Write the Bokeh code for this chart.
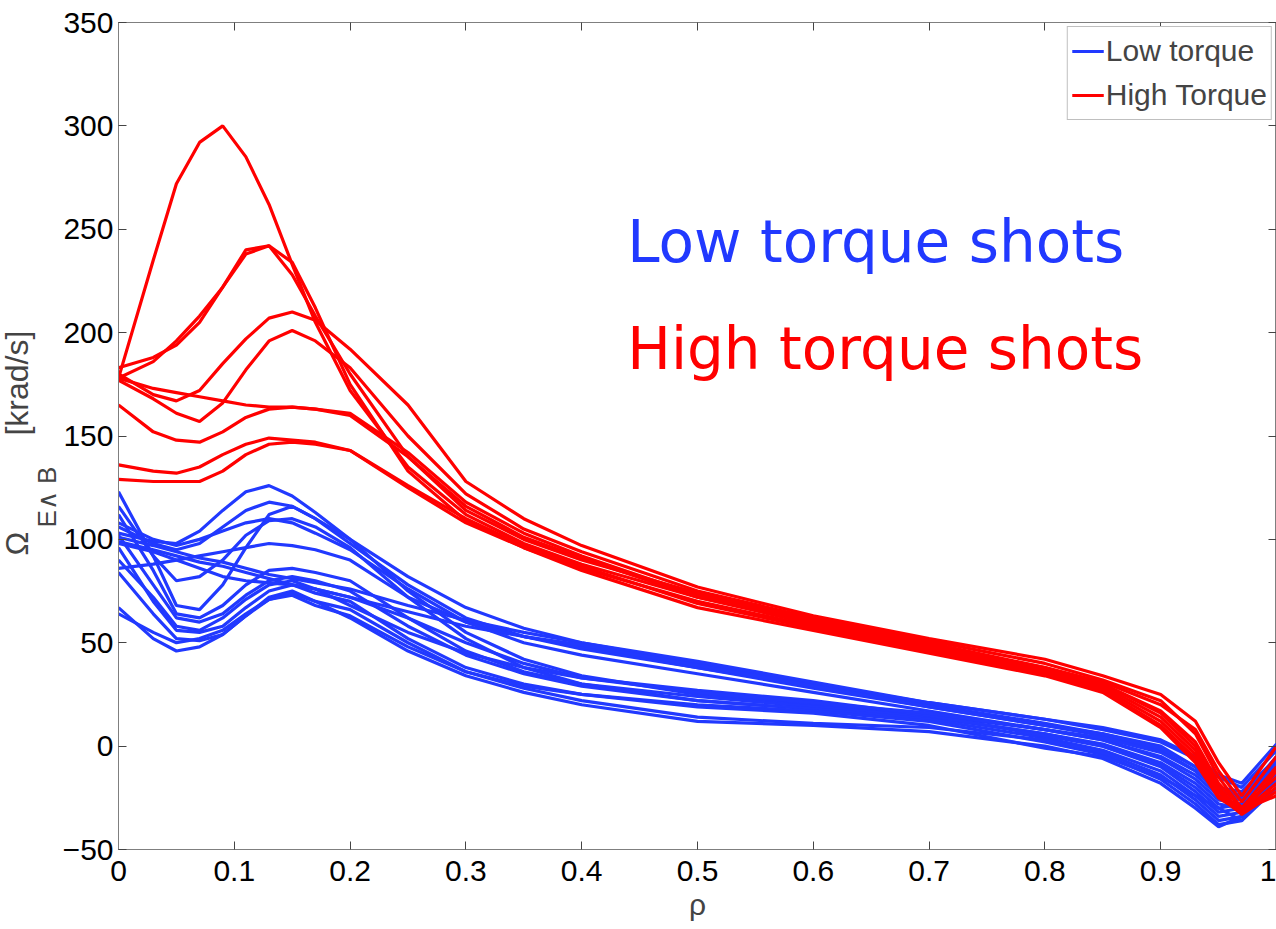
from bokeh.plotting import figure
from bokeh.models import LinearAxis, FixedTicker, Range1d, Label, Legend, LegendItem, Title
from bokeh.embed import file_html
from bokeh.resources import INLINE

# ---------------- data ----------------
rho = [0, 0.03, 0.05, 0.07, 0.09, 0.11, 0.13, 0.15, 0.17, 0.2,
       0.25, 0.3, 0.35, 0.4, 0.5, 0.6, 0.7, 0.8, 0.85, 0.9, 0.93, 0.95, 0.97, 1.0]

blue_1 = [103, 99, 98, 104, 114, 123, 126, 121, 113, 100, 82, 67, 57, 50, 40, 30, 21, 13, 8, 2, -6, -15, -20, -2]
blue_2 = [106, 98, 95, 98, 106, 114, 118, 116, 110, 98, 78, 62, 53, 47, 38, 29, 20, 11, 6, 0, -10, -20, -24, -8]
blue_3 = [123, 92, 68, 66, 78, 96, 112, 116, 110, 100, 75, 55, 42, 34, 25, 20, 15, 8, 3, -6, -16, -26, -28, -12]
blue_4 = [116, 92, 80, 82, 90, 102, 109, 110, 106, 96, 72, 52, 38, 30, 22, 18, 14, 6, 0, -10, -22, -32, -30, -15]
blue_5 = [86, 88, 90, 92, 94, 96, 98, 97, 95, 90, 72, 60, 53, 48, 38, 28, 19, 10, 5, -2, -12, -22, -25, -5]
blue_6 = [101, 97, 94, 91, 89, 86, 83, 81, 79, 76, 68, 61, 55, 50, 41, 31, 21, 13, 9, 3, -5, -14, -18, 1]
blue_7 = [99, 95, 92, 89, 87, 84, 81, 78, 76, 72, 65, 58, 53, 49, 39, 29, 19, 10, 6, -1, -10, -20, -22, -6]
blue_8 = [112, 85, 64, 62, 68, 78, 85, 86, 84, 80, 62, 46, 36, 30, 24, 19, 14, 6, 1, -8, -18, -28, -30, -18]
blue_9 = [102, 78, 62, 60, 64, 73, 80, 82, 80, 75, 58, 44, 35, 29, 22, 18, 13, 4, -2, -12, -24, -34, -32, -14]
blue_10 = [96, 70, 56, 55, 58, 67, 75, 78, 74, 70, 52, 38, 30, 25, 20, 17, 12, 2, -4, -16, -28, -38, -36, -20]
blue_11 = [84, 64, 52, 51, 54, 63, 72, 75, 70, 66, 50, 36, 28, 22, 14, 11, 9, 3, -3, -14, -26, -36, -34, -10]
blue_12 = [67, 52, 46, 48, 54, 63, 71, 74, 70, 62, 46, 34, 26, 20, 12, 10, 7, 0, -6, -18, -30, -39, -34, -16]
blue_13 = [64, 55, 50, 52, 56, 64, 71, 73, 68, 63, 48, 36, 29, 25, 19, 16, 10, -1, -5, -15, -24, -30, -36, -12]
blue_14 = [90, 72, 58, 56, 62, 71, 78, 80, 76, 68, 55, 45, 38, 33, 27, 22, 15, 5, 0, -9, -20, -30, -28, -8]
blue_15 = [108, 100, 97, 100, 104, 108, 110, 108, 103, 95, 76, 60, 50, 44, 35, 26, 17, 8, 3, -5, -14, -24, -26, -9]
blue_16 = [98, 94, 90, 86, 82, 80, 79, 78, 76, 72, 62, 50, 40, 33, 26, 21, 16, 8, 4, -3, -12, -22, -24, -6]

red_1 = [178, 235, 272, 292, 300, 285, 262, 233, 205, 172, 135, 112, 98, 88, 72, 60, 49, 37, 30, 17, 2, -18, -30, -15]
red_2 = [183, 188, 194, 205, 222, 240, 242, 228, 208, 180, 140, 114, 100, 90, 74, 61, 50, 38, 31, 20, 8, -12, -27, -5]
red_3 = [178, 186, 196, 208, 222, 238, 242, 234, 212, 175, 133, 109, 96, 86, 70, 58, 47, 36, 28, 12, -4, -22, -33, -22]
red_4 = [180, 170, 167, 172, 185, 197, 207, 210, 206, 192, 165, 128, 110, 97, 77, 63, 52, 42, 34, 25, 12, -8, -24, 0]
red_5 = [177, 168, 161, 157, 166, 182, 196, 201, 196, 183, 150, 122, 105, 94, 75, 62, 51, 40, 32, 22, 6, -15, -30, -10]
red_6 = [178, 173, 171, 169, 167, 165, 164, 164, 163, 161, 142, 118, 103, 92, 73, 60, 49, 38, 30, 16, 0, -20, -32, -18]
red_7 = [165, 152, 148, 147, 152, 159, 163, 164, 163, 160, 140, 116, 101, 91, 72, 59, 48, 37, 29, 14, -2, -22, -31, -24]
red_8 = [136, 133, 132, 135, 141, 146, 149, 148, 147, 143, 126, 110, 97, 87, 69, 57, 46, 35, 27, 10, -6, -24, -33, -12]
red_9 = [129, 128, 128, 128, 133, 141, 146, 147, 146, 143, 125, 108, 96, 85, 67, 56, 45, 34, 26, 9, -8, -25, -32, -20]

x_ticks = [0, 0.1, 0.2, 0.3, 0.4, 0.5, 0.6, 0.7, 0.8, 0.9, 1]
y_ticks = [-50, 0, 50, 100, 150, 200, 250, 300, 350]
legend_labels = ["Low torque", "High Torque"]

blue_curves = [blue_1, blue_2, blue_3, blue_4, blue_5, blue_6, blue_7, blue_8,
               blue_9, blue_10, blue_11, blue_12, blue_13, blue_14, blue_15, blue_16]
red_curves = [red_1, red_2, red_3, red_4, red_5, red_6, red_7, red_8, red_9]

BLUE = "#2139ff"
RED = "#ff0000"
TICK_FONT = "Liberation Sans Narrow, Arial Narrow, Liberation Sans"
LABEL_FONT = "Liberation Sans"

p = figure(width=1276, height=929, output_backend="svg", toolbar_location=None,
           x_range=Range1d(0, 1), y_range=Range1d(-50, 350),
           min_border_left=117, min_border_right=0, min_border_top=22, min_border_bottom=80)
p.background_fill_color = "white"
p.border_fill_color = "white"
p.grid.visible = False
p.outline_line_color = "#7f7f7f"
p.outline_line_width = 1

blue_renderers = [p.line(rho, c, line_color=BLUE, line_width=3.2) for c in blue_curves]
red_renderers = [p.line(rho, c, line_color=RED, line_width=3.2) for c in red_curves]

# axes
for ax in p.xaxis:
    ax.ticker = FixedTicker(ticks=x_ticks)
    ax.major_label_overrides = {t: ("%g" % t) for t in x_ticks}
    ax.major_label_standoff = 11
for ax in p.yaxis:
    ax.ticker = FixedTicker(ticks=y_ticks)
    ax.major_label_overrides = {t: ("\u2212%d" % -t if t < 0 else "%d" % t) for t in y_ticks}
    ax.major_label_standoff = 5
for ax in p.axis:
    ax.major_tick_in = 8
    ax.major_tick_out = 0
    ax.minor_tick_in = 0
    ax.minor_tick_out = 0
    ax.axis_line_color = "#7f7f7f"
    ax.major_tick_line_color = "#444444"
    ax.major_label_text_font = TICK_FONT
    ax.major_label_text_font_size = "30px"
    ax.major_label_text_color = "black"

p.xaxis.axis_label = "\u03c1"
p.xaxis.axis_label_text_font = LABEL_FONT
p.xaxis.axis_label_text_font_size = "30px"
p.xaxis.axis_label_text_font_style = "normal"
p.xaxis.axis_label_standoff = 4

# secondary axes carrying MATLAB-style ticks on top and right (no labels drawn)
top_ax = LinearAxis(ticker=FixedTicker(ticks=x_ticks), major_label_text_font_size="1px",
                    major_label_text_color=None,
                    major_tick_in=8, major_tick_out=0, minor_tick_in=0, minor_tick_out=0,
                    axis_line_color=None, major_tick_line_color="#444444", major_label_standoff=0)
right_ax = LinearAxis(ticker=FixedTicker(ticks=y_ticks), major_label_text_font_size="1px",
                      major_label_text_color=None,
                      major_tick_in=8, major_tick_out=0, minor_tick_in=0, minor_tick_out=0,
                      axis_line_color=None, major_tick_line_color="#444444", major_label_standoff=0)
p.add_layout(top_ax, "above")
p.add_layout(right_ax, "right")

# y-axis label: Omega with subscript, built from two side titles
sub_title = Title(text="E\u2227 B", align="left", offset=322, text_font=LABEL_FONT,
                  text_font_size="26px", text_font_style="normal", standoff=-4)
main_title = Title(text="\u03a9\u2003\u2003\u2002\u2002[krad/s]", align="left", offset=294,
                   text_font=LABEL_FONT, text_font_size="32px", text_font_style="normal", standoff=-7)
p.add_layout(sub_title, "left")
p.add_layout(main_title, "left")

# annotations
p.add_layout(Label(x=0.4394, y=244, text="Low torque shots", text_font="DejaVu Sans",
                   text_font_size="58px", text_color=BLUE, text_baseline="alphabetic"))
p.add_layout(Label(x=0.4394, y=192, text="High torque shots", text_font="DejaVu Sans",
                   text_font_size="58px", text_color=RED, text_baseline="alphabetic"))

legend = Legend(items=[LegendItem(label=legend_labels[0], renderers=[blue_renderers[0]]),
                       LegendItem(label=legend_labels[1], renderers=[red_renderers[0]])],
                location="top_right")
legend.label_text_font = TICK_FONT
legend.label_text_font_size = "30px"
legend.glyph_width = 32
legend.glyph_height = 40
legend.label_height = 40
legend.label_standoff = 2
legend.spacing = 4
legend.padding = 4
legend.margin = 4
legend.border_line_color = "#7f7f7f"
legend.border_line_width = 1
legend.background_fill_alpha = 1
p.add_layout(legend)

open("out.html", "w").write(file_html(p, INLINE))
